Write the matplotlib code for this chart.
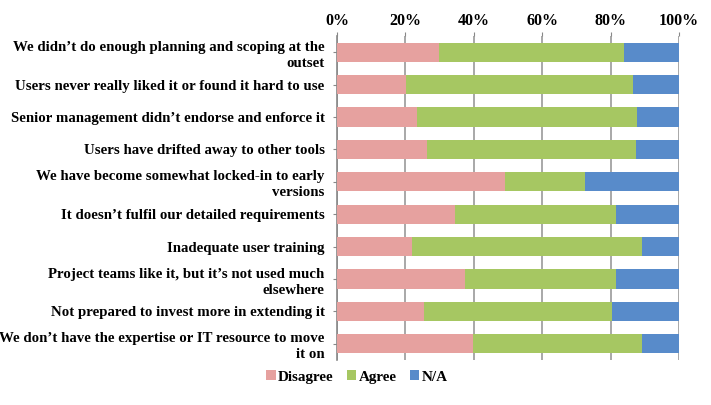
import matplotlib
matplotlib.use('Agg')
import matplotlib.pyplot as plt
import numpy as np

# survey statements (top to bottom)
labels = [
    "We didn\u2019t do enough planning and scoping at the\noutset",
    "Users never really liked it or found it hard to use",
    "Senior management didn\u2019t endorse and enforce it",
    "Users have drifted away to other tools",
    "We have become somewhat locked-in to early\nversions",
    "It doesn\u2019t fulfil our detailed requirements",
    "Inadequate user training",
    "Project teams like it, but it\u2019s not used much\nelsewhere",
    "Not prepared to invest more in extending it",
    "We don\u2019t have the expertise or IT resource to move\nit on",
]

# shares in percent
disagree = [29.8, 20.1, 23.4, 26.3, 49.2, 34.5, 21.8, 37.4, 25.5, 39.8]
agree = [54.2, 66.4, 64.3, 61.0, 23.3, 47.2, 67.5, 44.3, 54.9, 49.5]
na = [16.0, 13.5, 12.3, 12.7, 27.5, 18.3, 10.7, 18.3, 19.6, 10.7]

plt.rcParams['font.family'] = ['Liberation Serif', 'DejaVu Serif']
plt.rcParams['font.weight'] = 'bold'

fig = plt.figure(figsize=(7.11, 4.05), dpi=100)
ax = fig.add_axes([0.474, 0.111, 0.481, 0.800])

y = np.arange(len(labels))
d = np.array(disagree)
a = np.array(agree)
n = np.array(na)

ax.barh(y, d, height=0.59, color='#E6A19F', label='Disagree', zorder=3)
ax.barh(y, a, left=d, height=0.59, color='#A6C762', label='Agree', zorder=3)
ax.barh(y, n, left=d + a, height=0.59, color='#588BCA', label='N/A', zorder=3)

ax.set_xlim(0, 100)
ax.set_ylim(len(labels) - 0.5, -0.5)
ax.xaxis.tick_top()
ax.set_xticks(np.arange(0, 101, 20))
ax.set_xticklabels([f"{v}%" for v in range(0, 101, 20)], fontsize=11.5, fontweight='bold')
ax.set_yticks(y)
ax.set_yticklabels(labels, fontsize=10.7, fontweight='bold', linespacing=1.3)
ax.tick_params(axis='x', length=3, color='#888888', pad=2)
ax.tick_params(axis='y', length=3, color='#888888', pad=6)
ax.grid(axis='x', color='#999999', linewidth=1.2, zorder=0)
for s in ['top', 'bottom', 'right']:
    ax.spines[s].set_visible(False)
ax.spines['left'].set_color('#888888')
ax.spines['left'].set_linewidth(1.2)

fig.legend(loc='center', bbox_to_anchor=(0.502, 0.069), ncol=3, frameon=False,
           handlelength=0.6, handleheight=0.6, handletextpad=0.15,
           columnspacing=0.9, prop={'weight': 'bold', 'size': 10.9})

fig.savefig('out.png', dpi=100)
